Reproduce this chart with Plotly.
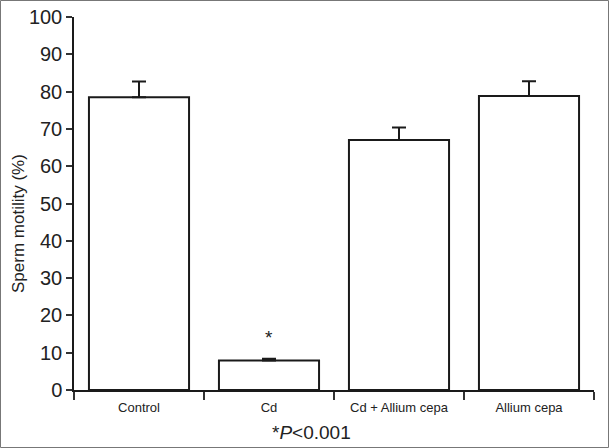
import plotly.graph_objects as go

GROUPS = ["Control", "Cd", "Cd + Allium cepa", "Allium cepa"]
MOTILITY = [78.5, 7.9, 67.0, 78.8]
SEM = [4.2, 0.5, 3.4, 4.0]
STAR_GROUP = "Cd"
STAR_Y = 14
Y_TICKS = list(range(0, 101, 10))

W, H = 609, 448
L, R, T, B = 74, 15, 17, 58
PW, PH = W - L - R, H - T - B

fig = go.Figure(
    go.Bar(
        x=GROUPS,
        y=MOTILITY,
        marker=dict(color="white", line=dict(color="#1a1a1a", width=2)),
        error_y=dict(
            type="data",
            symmetric=False,
            array=SEM,
            arrayminus=[0] * len(SEM),
            color="#1a1a1a",
            thickness=2,
            width=7,
        ),
        showlegend=False,
    )
)

fig.add_annotation(
    x=STAR_GROUP, y=STAR_Y, text="*", showarrow=False,
    font=dict(size=19, color="#222"), xref="x", yref="y",
)
fig.add_annotation(
    x=(311 - L) / PW, y=-(432 - (H - B)) / PH, xref="paper", yref="paper",
    text="*<i>P</i><0.001", showarrow=False,
    font=dict(size=19, color="#222"), yanchor="middle",
)
# y title placed by hand, it sits a little below the plot's middle
fig.add_annotation(
    x=(18 - L) / PW, y=1 - (224 - T) / PH, xref="paper", yref="paper",
    text="Sperm motility (%)", textangle=-90, showarrow=False,
    font=dict(size=17, color="#222"), xanchor="center", yanchor="middle",
)

# outer frame round the whole picture
fig.add_shape(
    type="rect", xref="paper", yref="paper",
    x0=(0.5 - L) / PW, x1=(W - 0.5 - L) / PW,
    y0=-(B - 0.5) / PH, y1=1 + (T - 0.5) / PH,
    line=dict(color="#777", width=1),
)

fig.update_layout(
    width=W, height=H,
    margin=dict(l=L, r=R, t=T, b=B, autoexpand=False),
    paper_bgcolor="white", plot_bgcolor="white",
    font=dict(family="Liberation Sans, Arial, sans-serif", color="#222"),
    bargap=0.23,
)
fig.update_xaxes(
    automargin=False,
    showline=True, linecolor="#1a1a1a", linewidth=2,
    ticks="outside", tickson="boundaries", ticklen=8, tickwidth=1.5, tickcolor="#333",
    tickfont=dict(size=13, color="#222"), showgrid=False, ticklabelstandoff=4,
)
fig.update_yaxes(
    automargin=False,
    range=[0, 100], tickvals=Y_TICKS,
    showline=True, linecolor="#1a1a1a", linewidth=1.5,
    ticks="outside", ticklen=6, tickwidth=1.5, tickcolor="#333",
    tickfont=dict(size=20, color="#222"), showgrid=False, zeroline=False,
)

# drop the browser's default body margin so the figure sits at the page corner
fig.write_html(
    "out.html",
    config={"displayModeBar": False},
    post_script="document.body.style.margin='0';",
)
